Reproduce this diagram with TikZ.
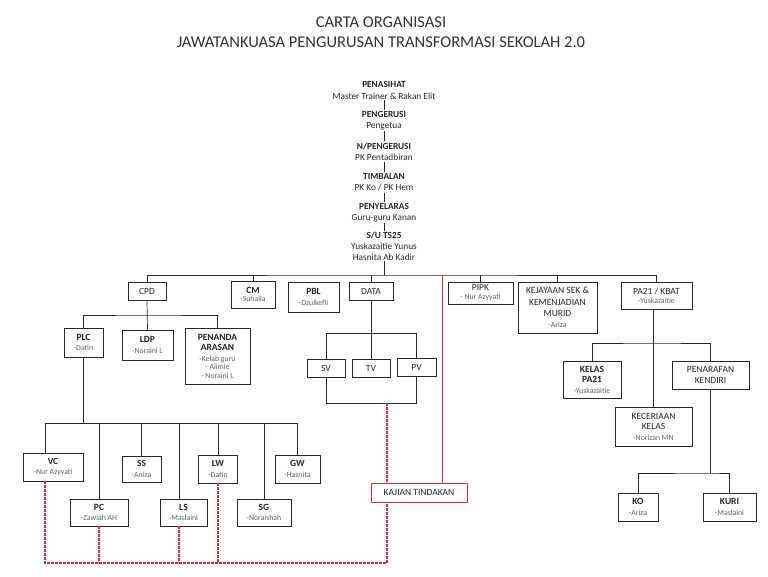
\documentclass[tikz,border=0pt]{standalone}
\usepackage{fontspec}
\setmainfont{Carlito}
\definecolor{KTRed}{RGB}{215,45,45}
\newcommand\mbr[1]{{\fontsize{7.8}{9}\selectfont\color{black!62}#1}}

\begin{document}
\begin{tikzpicture}[x=1pt, y=-1pt,
  every node/.style={font=\fontsize{9.5}{10.5}\selectfont, text=black!85},
  box/.style={draw=black!85, fill=white, line width=0.7pt, align=center, inner sep=1pt},
  boxsize/.style 2 args={minimum width=#1pt, minimum height=#2pt},
  chain/.style={align=center, inner sep=0pt, font=\fontsize{9.3}{11.2}\selectfont},
  link/.style={draw=black!85, line width=0.7pt},
  redlink/.style={draw=KTRed, line width=0.9pt},
  reddash/.style={draw=KTRed, line width=1.2pt, line cap=butt, dash pattern=on 2.5pt off 1.5pt}]
\useasboundingbox (0,0) rectangle (768,576);

% Title
\node[font=\fontsize{16.5}{20}\selectfont, align=center, text=black!80] (title) at (381,32)
  {CARTA ORGANISASI\\JAWATANKUASA PENGURUSAN TRANSFORMASI SEKOLAH 2.0};

% Top chain
\node[chain] (pns) at (384,90.5) {\textbf{PENASIHAT}\\Master Trainer \& Rakan Elit};
\node[chain] (pgr) at (384,120.5) {\textbf{PENGERUSI}\\Pengetua};
\node[chain] (npg) at (384,151.5) {\textbf{N/PENGERUSI}\\PK Pentadbiran};
\node[chain] (tbl) at (384,182.5) {\textbf{TIMBALAN}\\PK Ko / PK Hem};
\node[chain] (pny) at (384,212.5) {\textbf{PENYELARAS}\\Guru-guru Kanan};
\node[chain] (su) at (384,246.5) {\textbf{S/U TS25}\\Yuskazaitie Yunus\\Hasnita Ab Kadir};
\foreach \a/\b in {pns/pgr, pgr/npg, npg/tbl, tbl/pny, pny/su}
  \draw[link, shorten <=1pt, shorten >=1pt] (\a) -- (\b);

% Top row
\node[box, boxsize={38}{18}] (cpd) at (147,291) {CPD};
\node[box, boxsize={44}{27}] (cm) at (253,294.5) {\textbf{CM}\\[-2pt]\mbr{-Suhaila}};
\node[box, boxsize={51}{30}] (pbl) at (313.5,297) {\textbf{PBL}\\\mbr{-Dzulkefli}};
\node[box, boxsize={44}{18}] (data) at (371,291) {DATA};
\node[box, boxsize={65}{22}] (pipk) at (480.5,293) {PIPK\\[-1.5pt]\mbr{- Nur Azyyati}};
\node[box, boxsize={79}{51}] (kjy) at (557.5,307.5) {KEJAYAAN SEK \&\\[1pt]KEMENJADIAN\\[1pt]MURID\\\mbr{-Ariza}};
\node[box, boxsize={71}{27}] (pa) at (656.5,295.5) {PA21 / KBAT\\[-1pt]\mbr{-Yuskazaitie}};

% CPD branch
\node[box, boxsize={39}{29}] (plc) at (83.5,342.5) {\textbf{PLC}\\\mbr{-Datin}};
\node[box, boxsize={51}{30}] (ldp) at (147.5,345) {\textbf{LDP}\\\mbr{-Noraini L}};
\node[box, boxsize={65}{56}] (pnd) at (217.5,356) {\textbf{PENANDA}\\\textbf{ARASAN}\\\mbr{-Kelab guru}\\[-2pt]\mbr{- Alimie}\\[-2pt]\mbr{- Noraini L}};

% PLC branch
\node[box, boxsize={60}{28}] (vc) at (53,467) {\textbf{VC}\\\mbr{-Nur Azyyati}};
\node[box, boxsize={39}{26}] (ss) at (141.5,469) {\textbf{SS}\\\mbr{-Aniza}};
\node[box, boxsize={39}{28}] (lw) at (218,469) {\textbf{LW}\\\mbr{-Datin}};
\node[box, boxsize={45}{28}] (gw) at (297.5,469) {\textbf{GW}\\\mbr{-Hasnita}};
\node[box, boxsize={58}{27}] (pc) at (99,512.5) {\textbf{PC}\\\mbr{-Zawiah AH}};
\node[box, boxsize={47}{27}] (ls) at (183.5,512.5) {\textbf{LS}\\\mbr{-Maslaini}};
\node[box, boxsize={54}{27}] (sg) at (264,512.5) {\textbf{SG}\\\mbr{-Noraishah}};

% DATA branch
\node[box, boxsize={38}{18}] (sv) at (326,368) {SV};
\node[box, boxsize={38}{18}] (tv) at (371,368) {TV};
\node[box, boxsize={39}{18}] (pv) at (416.5,367) {PV};
\node[box, draw=KTRed, boxsize={96}{19}] (kt) at (419,492.5) {KAJIAN TINDAKAN};

% PA21 branch
\node[box, boxsize={58}{37}] (kelas) at (592,379.5) {\textbf{KELAS}\\\textbf{PA21}\\\mbr{-Yuskazaitie}};
\node[box, boxsize={77}{28}] (pnr) at (710.5,375) {PENARAFAN\\KENDIRI};
\node[box, boxsize={77}{39}] (kcr) at (653.5,426.5) {KECERIAAN\\KELAS\\\mbr{-Norizan MN}};
\node[box, boxsize={40}{28}] (ko) at (638,507) {\textbf{KO}\\\mbr{-Ariza}};
\node[box, boxsize={53}{28}] (kuri) at (729.5,507) {\textbf{KURI}\\\mbr{-Maslaini}};

% Main bus
\coordinate (bus) at (384,275);
\draw[link] (su.south) -- (bus);
\draw[link] (cpd.north) |- (bus) -| (pa.north);
\draw[link] (cm.north) -- (cm.north |- bus);
\draw[link] (bus -| data.north) -- (data.north);
\draw[link] (pipk.north) -- (pipk.north |- bus);
\draw[link] (kjy.north) -- (kjy.north |- bus);

% CPD links
\coordinate (cpdbus) at (147,315);
\draw[link] (cpd.south) -- (ldp.north);
\draw[link] (plc.north) |- (cpdbus) -| (pnd.north);

% PLC links
\coordinate (bvc) at (45,423);
\coordinate (bls) at (179,423);
\draw[link] (plc.south) -- (plc.south |- bvc);
\draw[link] (vc.north -| bvc) -- (bvc) -- (gw.north |- bvc) -- (gw.north);
\draw[link] (pc.north) -- (pc.north |- bvc);
\draw[link] (ss.north) -- (ss.north |- bvc);
\draw[link] (ls.north -| bls) -- (bls);
\draw[link] (lw.north) -- (lw.north |- bvc);
\draw[link] (sg.north) -- (sg.north |- bvc);

% DATA links
\coordinate (dtop) at (372,333);
\coordinate (dbot) at (387,403);
\draw[link] (data.south) -- (tv.north);
\draw[link] (sv.north) -- (sv.north |- dtop) -- (pv.north |- dtop) -- (pv.north);
\draw[link] (sv.south) -- (sv.south |- dbot) -- (pv.south |- dbot) -- (pv.south);

% PA21 links
\coordinate (pabus) at (653,343);
\coordinate (kobus) at (710,473);
\draw[link] (kcr.north |- pa.south) -- (kcr.north);
\draw[link] (kelas.north) |- (pabus) -| (pnr.north);
\draw[link] (pnr.south) -- (pnr.south |- kobus);
\draw[link] (ko.north) |- (kobus) -| (kuri.north);

% Kajian tindakan
\coordinate (redtop) at (442,275);
\coordinate (kjb) at (387,563);
\draw[redlink] (redtop) -- (redtop |- kt.north);
\draw[reddash] (dbot) -- (dbot |- kt.north);
\draw[reddash] (vc.south -| bvc) -- (bvc |- kjb) -- (kjb) -- (kjb |- kt.south);
\draw[reddash] (pc.south) -- (pc.south |- kjb);
\draw[reddash] (ls.south -| bls) -- (bls |- kjb);
\draw[reddash] (lw.south) -- (lw.south |- kjb);
\end{tikzpicture}
\end{document}
